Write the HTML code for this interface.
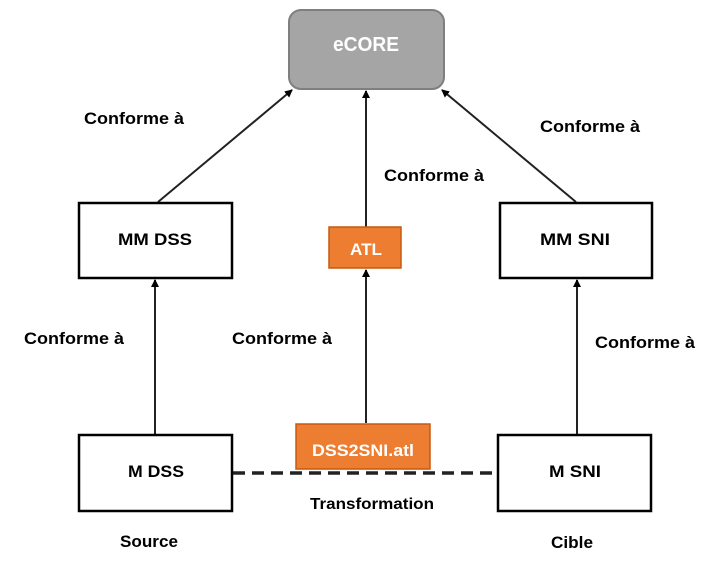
<!DOCTYPE html>
<html><head><meta charset="utf-8"><style>
html,body{margin:0;padding:0;background:#fff;}
svg{display:block}
text{font-family:"Liberation Sans",sans-serif;font-weight:bold;}
</style></head><body>
<svg width="720" height="568" viewBox="0 0 720 568" xmlns="http://www.w3.org/2000/svg">
<defs><marker id="a" markerWidth="8" markerHeight="8" refX="7" refY="4" orient="auto" markerUnits="userSpaceOnUse"><path d="M0,0 L8,4 L0,8 z" fill="#000"/></marker></defs>
<rect x="289" y="10" width="155" height="79" rx="12" fill="#a5a5a5" stroke="#7f7f7f" stroke-width="2"/>
<text x="366" y="51" text-anchor="middle" font-size="20" fill="#fff" textLength="66" lengthAdjust="spacingAndGlyphs">eCORE</text>
<g stroke="#222" stroke-width="2" fill="none">
<line x1="158" y1="202" x2="292" y2="90" marker-end="url(#a)"/>
<line x1="366" y1="228" x2="366" y2="91" marker-end="url(#a)"/>
<line x1="576" y1="202" x2="442" y2="90" marker-end="url(#a)"/>
<line x1="155" y1="434" x2="155" y2="280" marker-end="url(#a)"/>
<line x1="366" y1="423" x2="366" y2="270" marker-end="url(#a)"/>
<line x1="577" y1="434" x2="577" y2="280" marker-end="url(#a)"/>
</g>
<line x1="233" y1="473" x2="497" y2="473" stroke="#222" stroke-width="3.5" stroke-dasharray="12,7"/>
<g fill="#fff" stroke="#000" stroke-width="2.5">
<rect x="79" y="203" width="153" height="75"/>
<rect x="500" y="203" width="152" height="75"/>
<rect x="79" y="435" width="153" height="76"/>
<rect x="498" y="435" width="153" height="76"/>
</g>
<rect x="329" y="227" width="72" height="41" fill="#ed7d31" stroke="#c55a11" stroke-width="1.5"/>
<rect x="296" y="424" width="134" height="45" fill="#ed7d31" stroke="#c55a11" stroke-width="1.5"/>
<g font-size="17" text-anchor="middle" fill="#000">
<text x="155" y="245" textLength="74" lengthAdjust="spacingAndGlyphs">MM DSS</text>
<text x="575" y="245" textLength="70" lengthAdjust="spacingAndGlyphs">MM SNI</text>
<text x="156" y="477" textLength="56" lengthAdjust="spacingAndGlyphs">M DSS</text>
<text x="575" y="477" textLength="52" lengthAdjust="spacingAndGlyphs">M SNI</text>
<text x="366" y="255" fill="#fff" textLength="32" lengthAdjust="spacingAndGlyphs">ATL</text>
<text x="363" y="456" fill="#fff" textLength="102" lengthAdjust="spacingAndGlyphs">DSS2SNI.atl</text>
<text x="134" y="124" textLength="100" lengthAdjust="spacingAndGlyphs">Conforme à</text>
<text x="434" y="181" textLength="100" lengthAdjust="spacingAndGlyphs">Conforme à</text>
<text x="590" y="132" textLength="100" lengthAdjust="spacingAndGlyphs">Conforme à</text>
<text x="74" y="344" textLength="100" lengthAdjust="spacingAndGlyphs">Conforme à</text>
<text x="282" y="344" textLength="100" lengthAdjust="spacingAndGlyphs">Conforme à</text>
<text x="645" y="348" textLength="100" lengthAdjust="spacingAndGlyphs">Conforme à</text>
<text x="149" y="547" textLength="58" lengthAdjust="spacingAndGlyphs">Source</text>
<text x="572" y="548" textLength="42" lengthAdjust="spacingAndGlyphs">Cible</text>
<text x="372" y="509" font-size="16" textLength="124" lengthAdjust="spacingAndGlyphs">Transformation</text>
</g>
</svg>
</body></html>
